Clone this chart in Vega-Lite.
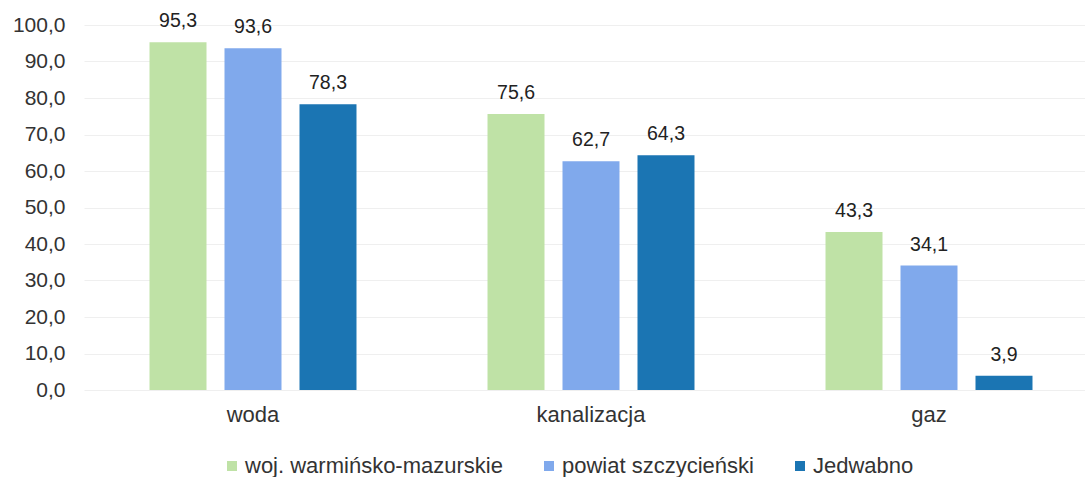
{
  "$schema": "https://vega.github.io/schema/vega-lite/v6.json",
  "width": 1014,
  "height": 365,
  "autosize": {"type": "none"},
  "padding": {"left": 84, "top": 25, "right": 0, "bottom": 87},
  "background": "#ffffff",
  "config": {
    "locale": {"number": {"decimal": ",", "thousands": " ", "grouping": [3], "currency": ["", " zł"]}},
    "font": "Liberation Sans",
    "view": {"stroke": null}
  },
  "data": {
    "values": [
      {"kat": "woda", "seria": "woj. warmińsko-mazurskie", "wartosc": 95.3},
      {"kat": "woda", "seria": "powiat szczycieński", "wartosc": 93.6},
      {"kat": "woda", "seria": "Jedwabno", "wartosc": 78.3},
      {"kat": "kanalizacja", "seria": "woj. warmińsko-mazurskie", "wartosc": 75.6},
      {"kat": "kanalizacja", "seria": "powiat szczycieński", "wartosc": 62.7},
      {"kat": "kanalizacja", "seria": "Jedwabno", "wartosc": 64.3},
      {"kat": "gaz", "seria": "woj. warmińsko-mazurskie", "wartosc": 43.3},
      {"kat": "gaz", "seria": "powiat szczycieński", "wartosc": 34.1},
      {"kat": "gaz", "seria": "Jedwabno", "wartosc": 3.9}
    ]
  },
  "encoding": {
    "x": {
      "field": "kat", "type": "nominal", "sort": ["woda", "kanalizacja", "gaz"],
      "scale": {"paddingInner": 0.3876, "paddingOuter": 0.1938},
      "axis": {"title": null, "domain": false, "ticks": false, "labelAngle": 0, "labelFontSize": 22, "labelColor": "#333333", "labelPadding": 14, "labelFont": "Liberation Sans"}
    },
    "xOffset": {"field": "seria", "type": "nominal", "sort": ["woj. warmińsko-mazurskie", "powiat szczycieński", "Jedwabno"], "scale": {"paddingInner": 0.24, "paddingOuter": 0}},
    "y": {
      "field": "wartosc", "type": "quantitative",
      "scale": {"domain": [0, 100], "nice": false},
      "axis": {"title": null, "domain": false, "ticks": false, "values": [0,10,20,30,40,50,60,70,80,90,100], "labelOverlap": false, "format": ".1f", "labelFontSize": 21, "labelColor": "#333333", "labelPadding": 19, "gridColor": "#efefef", "gridWidth": 1, "labelFont": "Liberation Sans"}
    }
  },
  "layer": [
    {
      "mark": {"type": "bar"},
      "encoding": {
        "color": {
          "field": "seria", "type": "nominal",
          "sort": ["woj. warmińsko-mazurskie", "powiat szczycieński", "Jedwabno"],
          "scale": {"domain": ["woj. warmińsko-mazurskie", "powiat szczycieński", "Jedwabno"], "range": ["#bfe2a6", "#80a9ec", "#1b75b3"]},
          "legend": {
            "title": null, "orient": "none", "direction": "horizontal", "legendX": 137, "legendY": 430,
            "symbolType": "square", "symbolSize": 100, "labelFontSize": 22, "labelColor": "#333333", "columnPadding": 35, "labelOffset": 2, "labelLimit": 500, "labelFont": "Liberation Sans"
          }
        }
      }
    },
    {
      "mark": {"type": "text", "baseline": "alphabetic", "dy": -15, "fontSize": 19.5, "color": "#222222", "font": "Liberation Sans"},
      "encoding": {
        "text": {"field": "wartosc", "type": "quantitative", "format": ".1f"}
      }
    }
  ]
}
